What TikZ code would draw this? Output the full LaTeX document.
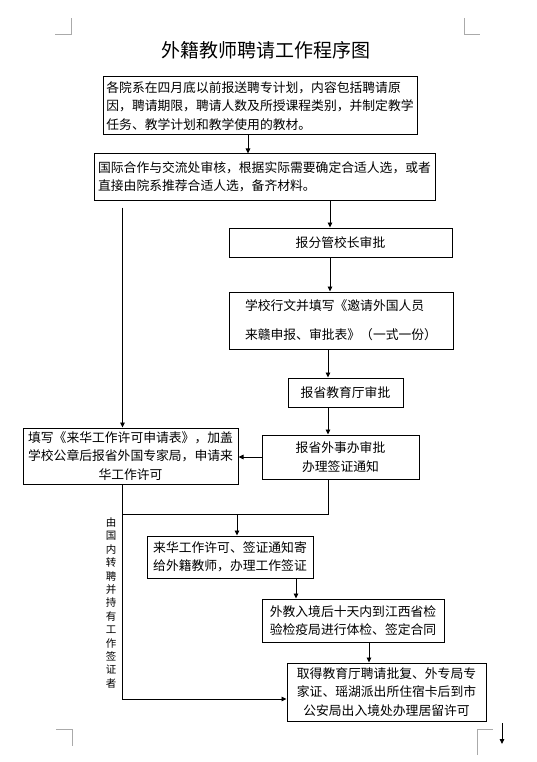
\documentclass[tikz,border=0pt]{standalone}
\usepackage{fontspec}
\setmainfont{Noto Sans CJK SC}
\usetikzlibrary{arrows.meta, positioning, calc}
\definecolor{markgray}{RGB}{170,170,170}
\tikzset{
  box/.style={rectangle, draw=black, line width=1pt, inner sep=3pt,
              font=\fontsize{12.8}{18.5}\selectfont, align=left},
  cbox/.style={box, align=center},
  line/.style={line width=0.9pt, color=black},
  arr/.style={line, -{Triangle[length=5pt, width=4.5pt]}},
  cornermark/.style={draw=markgray, line width=0.9pt},
}

\begin{document}
\begin{tikzpicture}[x=1pt, y=-1pt]
  \useasboundingbox (0,0) rectangle (536,762);

  % page corner marks
  \draw[cornermark] (55,34) -- (71,34) -- (71,18);
  \draw[cornermark] (464,18) -- (464,34) -- (480,34);
  \draw[cornermark] (56,729) -- (72,729) -- (72,746);
  \draw[cornermark] (477,755) -- (477,729) -- (493,729);

  \node[font=\fontsize{19}{22}\selectfont] (title) at (266,50) {外籍教师聘请工作程序图};

  \node[box, minimum width=314, minimum height=58] (plan) at (260,106)
    {各院系在四月底以前报送聘专计划，内容包括聘请原\\因，聘请期限，聘请人数及所授课程类别，并制定教学\\任务、教学计划和教学使用的教材。};
  \node[box, minimum width=341, minimum height=46] (review) at (264.5,177)
    {国际合作与交流处审核，根据实际需要确定合适人选，或者\\直接由院系推荐合适人选，备齐材料。};
  \node[cbox, minimum width=223, minimum height=29] (vp) at (340.5,242.5)
    {报分管校长审批};
  \node[box, minimum width=224, minimum height=57,
        font=\fontsize{12.8}{29}\selectfont] (doc) at (341,320.5)
    {学校行文并填写《邀请外国人员\\来赣申报、审批表》（一式一份）};
  \node[cbox, minimum width=115, minimum height=29] (edu) at (345.5,392.5)
    {报省教育厅审批};
  \node[cbox, minimum width=157, minimum height=44] (fao) at (340.5,457)
    {报省外事办审批\\办理签证通知};
  \node[cbox, minimum width=215, minimum height=56] (permit) at (130.5,456)
    {填写《来华工作许可申请表》，加盖\\学校公章后报省外国专家局，申请来\\华工作许可};
  \node[box, minimum width=166, minimum height=42] (mail) at (230,557)
    {来华工作许可、签证通知寄\\给外籍教师，办理工作签证};
  \node[box, minimum width=182, minimum height=43] (exam) at (353,620.5)
    {外教入境后十天内到江西省检\\验检疫局进行体检、签定合同};
  \node[cbox, minimum width=199, minimum height=58] (stay) at (386.5,692)
    {取得教育厅聘请批复、外专局专\\家证、瑶湖派出所住宿卡后到市\\公安局出入境处办理居留许可};
  \node[align=center, inner sep=0pt, font=\fontsize{10.5}{13.4}\selectfont] (note) at (111,603)
    {由\\国\\内\\转\\聘\\并\\持\\有\\工\\作\\签\\证\\者};

  \coordinate (merge) at (237,514);
  \coordinate (endA) at (502,723);
  \coordinate (endB) at (502,744);

  \draw[arr] ([xshift=-12pt]plan.south) -- ([xshift=-12pt]plan.south |- review.north);
  \draw[arr] ([xshift=-10.5pt]vp.north |- review.south) -- ([xshift=-10.5pt]vp.north);
  \draw[arr] ([xshift=-10.5pt]vp.south) -- ([xshift=-10.5pt]vp.south |- doc.north);
  \draw[arr] ([xshift=-13pt]doc.south) -- ([xshift=-13pt]doc.south |- edu.north);
  \draw[arr] ([xshift=-12.5pt]fao.north |- edu.south) -- ([xshift=-12.5pt]fao.north);
  \draw[arr] (fao.west) -- (fao.west -| permit.east);
  \draw[arr] ([xshift=-8pt,yshift=-7pt]permit.north |- review.south) -- ([xshift=-8pt]permit.north);
  \draw[line] ([xshift=-12.5pt]fao.south) |- (merge);
  \draw[line] ([xshift=-8pt]permit.south) |- (merge);
  \draw[arr] (merge) -- (merge |- mail.north);
  \draw[arr] ([xshift=-8pt]permit.south) |- ([yshift=-7pt]stay.west);
  \draw[arr] ([xshift=-57pt]exam.north |- mail.south) -- ([xshift=-57pt]exam.north);
  \draw[arr] ([xshift=16pt]exam.south) -- ([xshift=16pt]exam.south |- stay.north);
  \draw[arr] (endA) -- (endB);
\end{tikzpicture}
\end{document}
